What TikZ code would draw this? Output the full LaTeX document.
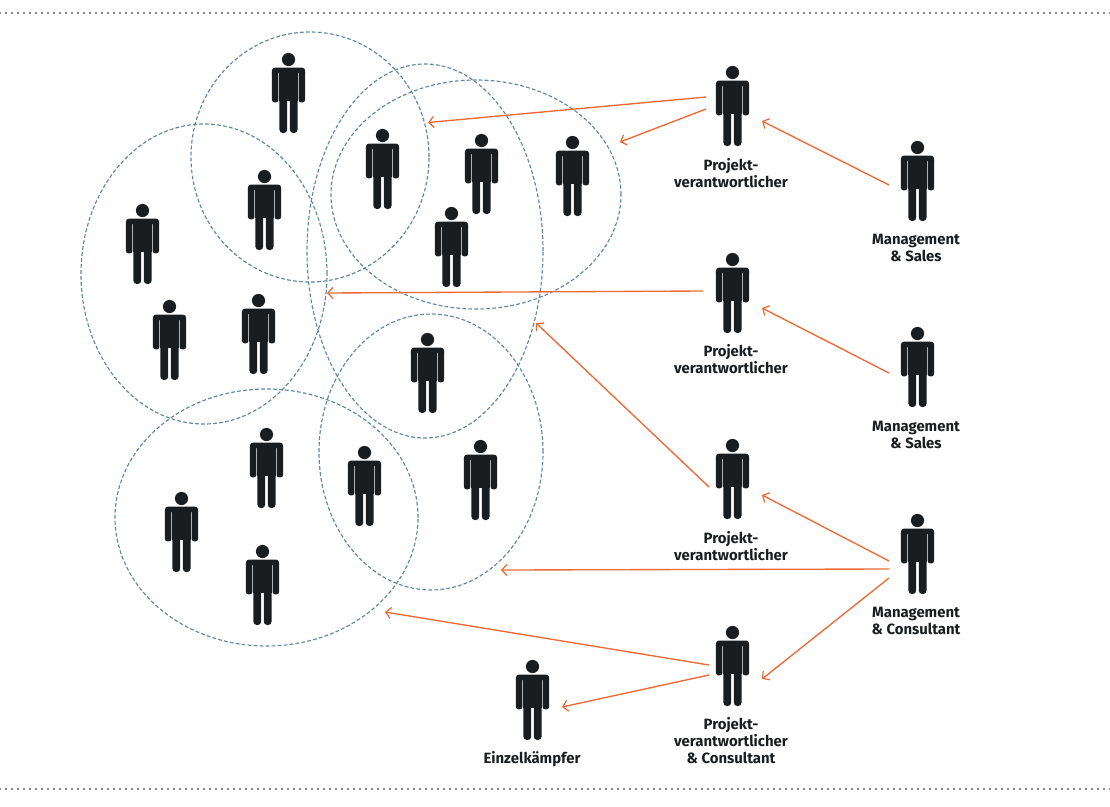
\documentclass[tikz,border=0pt]{standalone}
\usepackage{fontspec}
\setmainfont{Fira Sans}
\usetikzlibrary{arrows.meta,calc,shapes.geometric}
\definecolor{ink}{HTML}{1A1D1F}
\definecolor{circ}{HTML}{5F87A0}
\definecolor{orng}{HTML}{EC6A35}
\newsavebox{\personbox}
\sbox{\personbox}{\begin{tikzpicture}[x=1pt,y=-1pt]
  \useasboundingbox (-16,0) rectangle (17,80);
  \fill[ink] (0,6.5) circle[radius=6.6];
  \fill[ink] (-16.6,20) [rounded corners=3] -- (-16.6,14.6) -- (16.6,14.6) [sharp corners] -- (16.6,20) -- cycle;
  \fill[ink,rounded corners=2.6] (-16.6,17) rectangle (-10.1,49.4);
  \fill[ink,rounded corners=2.6] (10.1,17) rectangle (16.6,49.4);
  \fill[ink] (-9.1,16) rectangle (9.1,48);
  \fill[ink,rounded corners=3.4] (-9.1,40) rectangle (-1.3,80);
  \fill[ink,rounded corners=3.4] (1.3,40) rectangle (9.1,80);
  \fill[ink] (-9.1,40) rectangle (9.1,46);
\end{tikzpicture}}
\tikzset{
  person/.style={inner sep=0pt,outer sep=0pt},
  group/.style={draw=circ,line width=1.15pt,dash pattern=on 3.8pt off 2.2pt,ellipse,inner sep=0pt,outer sep=0pt},
  conn/.style={draw=orng,line width=1.35pt,-{Straight Barb[length=5pt,width=11pt,line width=1.25pt]}},
  lab/.style={font=\fontsize{14.9}{17}\selectfont\bfseries,text=ink,align=center,inner sep=0pt},
  rule/.style={draw=ink,line width=1.7pt,line cap=round,dash pattern=on 0pt off 6pt}
}
\begin{document}
\begin{tikzpicture}[x=1pt,y=-1pt]
\useasboundingbox (0,0) rectangle (1110,806);
\coordinate (rt1) at (0,13); \coordinate (rt2) at (1110,13);
\coordinate (rb1) at (0,789); \coordinate (rb2) at (1110,789);
\draw[rule] (rt1) -- (rt2);
\draw[rule] (rb1) -- (rb2);
% groups
\node[group,minimum width=238pt,minimum height=250pt] (e1) at (310,157) {};
\node[group,minimum width=246pt,minimum height=300pt] (e2) at (204,274) {};
\node[group,minimum width=290pt,minimum height=229pt] (e3) at (476,194.5) {};
\node[group,minimum width=236pt,minimum height=374pt] (e4) at (425,251) {};
\node[group,minimum width=224pt,minimum height=276pt] (e5) at (431,452) {};
\node[group,minimum width=303pt,minimum height=257pt] (e6) at (266.5,517.5) {};
% people
\foreach \n/\x/\y in {a/289/93,b/265/210,c/383/169,d/482/174,f/573/176,g/452/247,h/143/244,i/170/340,j/259/334,k/428/373,l/481/480,m/365/486,n/267/468,o/182/532,q/263/585}
  \node[person] (p\n) at (\x,\y) {\usebox{\personbox}};
\node[person] (pj1) at (733,106) {\usebox{\personbox}};
\node[person] (ms1) at (918,181) {\usebox{\personbox}};
\node[person] (pj2) at (733,293) {\usebox{\personbox}};
\node[person] (ms2) at (918,367) {\usebox{\personbox}};
\node[person] (pj3) at (733,479) {\usebox{\personbox}};
\node[person] (mc) at (918,554) {\usebox{\personbox}};
\node[person] (pj4) at (733,666) {\usebox{\personbox}};
\node[person] (ek) at (533,700) {\usebox{\personbox}};
% labels
\node[lab] (l1) at (731,173.5) {Projekt-\\verantwortlicher};
\node[lab] (l2) at (916,247.5) {Management\\\& Sales};
\node[lab] (l3) at (731,359.5) {Projekt-\\verantwortlicher};
\node[lab] (l4) at (916,434.5) {Management\\\& Sales};
\node[lab] (l5) at (731,546.5) {Projekt-\\verantwortlicher};
\node[lab] (l6) at (916,620.5) {Management\\\& Consultant};
\node[lab] (l7) at (731,741) {Projekt-\\verantwortlicher\\\& Consultant};
\node[lab] (l8) at (532,759) {Einzelkämpfer};
% free ends
\coordinate (t1) at (428,122.5);
\coordinate (t2) at (620,142);
\coordinate (t3) at (327,293);
\coordinate (t4) at (536,323);
\coordinate (t5) at (501,570);
\coordinate (t6) at (385,612);
% connectors
\draw[conn] ($(pj1)+(-27,-9)$) -- (t1);
\draw[conn] ($(pj1)+(-27,3)$) -- (t2);
\draw[conn] ($(ms1)+(-29,4)$) -- ($(pj1)+(29,15)$);
\draw[conn] ($(pj2)+(-30,-2)$) -- (t3);
\draw[conn] ($(ms2)+(-29,6)$) -- ($(pj2)+(29,15)$);
\draw[conn] ($(pj3)+(-24,8)$) -- (t4);
\draw[conn] ($(mc)+(-29,7)$) -- ($(pj3)+(29,16)$);
\draw[conn] ($(mc)+(-29,15)$) -- (t5);
\draw[conn] ($(mc)+(-29,24)$) -- ($(pj4)+(29,13)$);
\draw[conn] ($(pj4)+(-24,-1)$) -- (t6);
\draw[conn] ($(pj4)+(-24,9)$) -- ($(ek)+(29,7)$);
\end{tikzpicture}
\end{document}
